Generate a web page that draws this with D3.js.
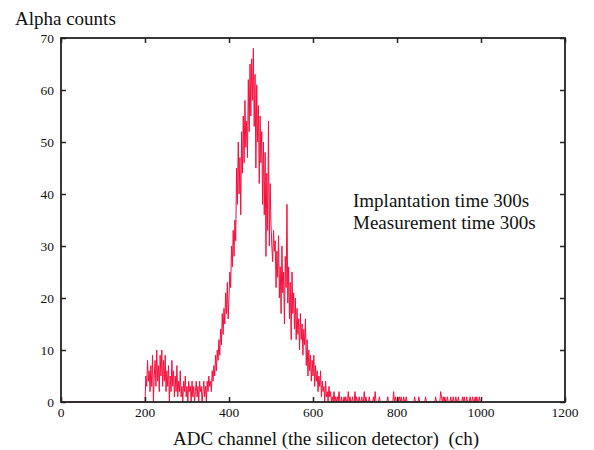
<!DOCTYPE html>
<html>
<head>
<meta charset="utf-8">
<script src="https://cdn.jsdelivr.net/npm/d3@7"></script>
<style>
	body { margin: 0; background: #fff; }
</style>
</head>
<body>
<svg id="chart" width="594" height="450"></svg>
<script>
/* Alpha spectrum, counts per channel (read every 2 channels) */
var xTicks = [0, 200, 400, 600, 800, 1000, 1200];
var yTicks = [0, 10, 20, 30, 40, 50, 60, 70];

var baseline = [[0, 0], [194, 0]];

var peakStart = 196;
var peakCounts = [
	0,0,0,5,3,8,4,6,2,7,
	3,9,0,5,8,3,10,4,7,2,
	9,5,10,3,8,4,9,2,6,3,
	7,0,5,2,8,3,6,1,5,2,
	7,1,4,2,6,1,3,0,4,2,
	5,1,3,0,4,2,3,0,4,1,
	3,0,2,4,1,3,0,4,2,3,
	0,2,4,1,3,0,4,2,5,3,
	4,2,6,4,7,5,9,6,10,8,
	12,9,14,11,17,13,18,15,21,17,
	23,16,20,25,22,30,26,33,28,35,
	31,45,38,50,40,47,36,52,44,55,
	46,58,49,54,47,62,52,65,55,66,
	58,68,53,63,45,61,50,57,42,55,
	46,52,38,50,36,48,28,44,33,54,
	30,42,34,30,27,33,29,31,22,29,
	24,32,20,26,17,30,21,25,15,28,
	22,38,19,26,16,23,12,25,17,21,
	14,20,12,18,13,16,10,17,12,15,
	9,14,11,16,7,12,5,10,6,9,
	4,8,5,9,3,7,4,6,2,5,
	3,6,1,4,2,3,0,4,1,2,
	0,3,1,2,0,1,0,2,0,1,
	0,1,0,2,0,0,1,0,0,1
];

var tailStart = 676;
var tailCounts = [
	0,1,0,0,2,0,1,0,0,1, 0,0,2,0,1,0,0,1,0,0,
	1,0,0,2,0,1,0,0,0,1, 0,0,0,0,1,0,2,0,0,0,
	0,1,0,0,0,0,0,0,0,0, 0,1,0,0,0,0,0,0,2,0,
	1,0,0,1,0,1,0,1,0,0, 1,0,0,1,0,0,0,0,0,0,
	0,0,0,1,0,0,0,0,1,0, 0,0,0,0,0,0,1,0,0,0,
	0,0,0,0,0,0,0,0,1,0, 0,0,0,0,2,1,0,1,0,1,
	0,0,1,0,0,0,1,0,0,1, 0,0,1,0,0,1,0,0,0,0,
	1,0,1,0,0,1,0,0,0,1, 0,0,1,0,0,1,0,1,0,0,
	1,0,0
];

var yLabel = "Alpha counts";
var xLabel = "ADC channel (the silicon detector)  (ch)";
var notes = ["Implantation time 300s", "Measurement time 300s"];

var serif = "'Liberation Serif', serif";

function drawChart()
{
	/* build points */
	var points = baseline.slice();
	peakCounts.forEach(function(c, i) { points.push([peakStart + 2 * i, c]); });
	tailCounts.forEach(function(c, i) { points.push([tailStart + 2 * i, c]); });

	var svg = d3.select("#chart");
	var mLeft = 61, mRight = 565, mTop = 38, mBottom = 402;

	var x = d3.scaleLinear().domain([0, 1200]).range([mLeft, mRight]);
	var y = d3.scaleLinear().domain([0, 70]).range([mBottom, mTop]);

	// spectrum
	svg.append("path")
		.datum(points)
		.attr("fill", "none")
		.attr("stroke", "#f5103c")
		.attr("stroke-width", 1)
		.attr("d", d3.line().x(function(d) { return x(d[0]); }).y(function(d) { return y(d[1]); }));

	// axes: tick marks only, inward on all four sides
	var axisStyle = function(g) {
		g.select(".domain").remove();
		g.selectAll(".tick line").attr("stroke", "#222").attr("stroke-width", 1.5);
		g.selectAll(".tick text").remove();
	};

	svg.append("g")
		.attr("transform", "translate(0," + mBottom + ")")
		.call(d3.axisBottom(x).tickValues(xTicks).tickSize(-5).tickFormat(""))
		.call(axisStyle);

	svg.append("g")
		.attr("transform", "translate(0," + mTop + ")")
		.call(d3.axisTop(x).tickValues(xTicks).tickSize(-5).tickFormat(""))
		.call(axisStyle);

	svg.append("g")
		.attr("transform", "translate(" + mLeft + ",0)")
		.call(d3.axisLeft(y).tickValues(yTicks).tickSize(-5).tickFormat(""))
		.call(axisStyle);

	svg.append("g")
		.attr("transform", "translate(" + mRight + ",0)")
		.call(d3.axisRight(y).tickValues(yTicks).tickSize(-5).tickFormat(""))
		.call(axisStyle);

	// tick labels
	svg.selectAll(".xlab")
		.data(xTicks)
		.enter().append("text")
		.attr("class", "xlab")
		.attr("x", function(d) { return x(d); })
		.attr("y", mBottom + 15)
		.attr("text-anchor", "middle")
		.style("font-family", serif)
		.style("font-size", "13.5px")
		.attr("fill", "#111")
		.text(function(d) { return d; });

	svg.selectAll(".ylab")
		.data(yTicks)
		.enter().append("text")
		.attr("class", "ylab")
		.attr("x", mLeft - 7)
		.attr("y", function(d) { return y(d) + 4.5; })
		.attr("text-anchor", "end")
		.style("font-family", serif)
		.style("font-size", "13.5px")
		.attr("fill", "#111")
		.text(function(d) { return d; });

	// frame
	svg.append("rect")
		.attr("x", mLeft).attr("y", mTop)
		.attr("width", mRight - mLeft).attr("height", mBottom - mTop)
		.attr("fill", "none")
		.attr("stroke", "#222")
		.attr("stroke-width", 1.8);

	// labels
	svg.append("text")
		.attr("x", 15).attr("y", 25)
		.style("font-family", serif)
		.style("font-size", "19px")
		.attr("fill", "#111")
		.text(yLabel);

	svg.append("text")
		.attr("x", 326).attr("y", 445)
		.attr("text-anchor", "middle")
		.style("font-family", serif)
		.style("font-size", "19px")
		.style("white-space", "pre")
		.attr("fill", "#111")
		.text(xLabel);

	svg.selectAll(".note")
		.data(notes)
		.enter().append("text")
		.attr("class", "note")
		.attr("x", 353)
		.attr("y", function(d, i) { return 207 + i * 22; })
		.style("font-family", serif)
		.style("font-size", "19px")
		.attr("fill", "#111")
		.text(function(d) { return d; });
}

drawChart();
</script>
</body>
</html>
